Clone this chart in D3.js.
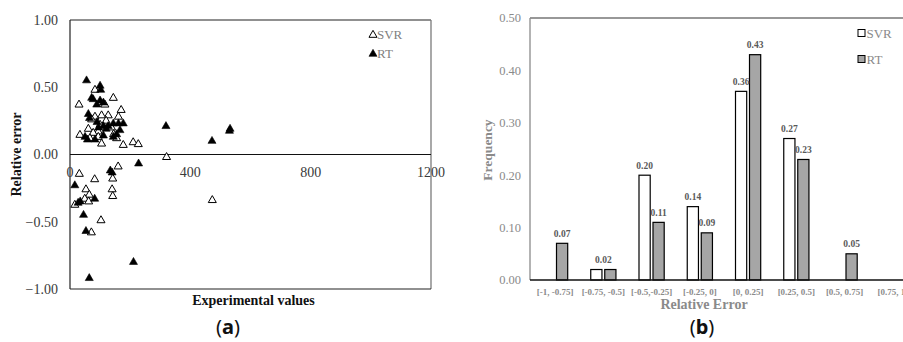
<!DOCTYPE html>
<html>
<head>
<meta charset="utf-8">
<script src="https://cdn.jsdelivr.net/npm/d3@7"></script>
<style>
  html, body { margin: 0; padding: 0; background: #fff; }
  svg { display: block; }
</style>
</head>
<body>
<svg id="fig" width="903" height="342" font-family="'Liberation Serif', 'Times New Roman', Times, serif"></svg>
<script>
// ---------- (a) relative error vs experimental value ----------
const svrPoints = [
  [30,0.37],[83,0.48],[144,0.42],[116,0.37],[170,0.33],[161,0.28],[127,0.29],[105,0.29],
  [83,0.28],[72,0.26],[61,0.19],[94,0.17],[77,0.16],[33,0.145],[94,0.13],[105,0.08],
  [155,0.12],[177,0.07],[210,0.09],[227,0.076],[321,-0.02],[120,0.25],[138,0.20],[100,0.22],
  [66,0.12],[145,0.15],
  [31,-0.145],[82,-0.185],[160,-0.09],[142,-0.18],[140,-0.26],[142,-0.31],[53,-0.26],
  [64,-0.30],[49,-0.33],[62,-0.35],[16,-0.375],[103,-0.49],[71,-0.58],[473,-0.34]
];
const rtPoints = [
  [55,0.55],[100,0.51],[102,0.48],[72,0.42],[77,0.41],[100,0.40],[89,0.37],[111,0.385],
  [61,0.30],[65,0.27],[90,0.24],[111,0.21],[127,0.21],[144,0.23],[161,0.23],[177,0.23],
  [166,0.18],[155,0.15],[144,0.13],[111,0.14],[83,0.11],[50,0.13],[58,0.11],[95,0.20],
  [120,0.19],[319,0.21],[472,0.10],[532,0.19],[530,0.175],
  [16,-0.23],[134,-0.12],[140,-0.135],[82,-0.33],[34,-0.35],[27,-0.36],[45,-0.45],
  [53,-0.57],[211,-0.80],[64,-0.92],[228,-0.068]
];
const xTicksA = [0, 400, 800, 1200];
const yTicksA = [1, 0.5, 0, -0.5, -1];

// ---------- (b) relative error histogram ----------
const bins = ["[-1, -0.75]", "[-0.75, -0.5]", "[-0.5,-0.25]", "[-0.25, 0]",
              "[0, 0.25]", "[0.25, 0.5]", "[0.5, 0.75]", "[0.75, 1]"];
const svrFreq = [0, 0.02, 0.20, 0.14, 0.36, 0.27, 0, 0];
const rtFreq  = [0.07, 0.02, 0.11, 0.09, 0.43, 0.23, 0.05, 0];
const yTicksB = [0, 0.1, 0.2, 0.3, 0.4, 0.5];
const seriesNames = ["SVR", "RT"];

const serif = "'Liberation Serif', 'Times New Roman', Times, serif";
const svg = d3.select("#fig");

// ===== panel (a) =====
const ax = { l: 70, r: 431, t: 20, b: 289 };
const xA = d3.scaleLinear().domain([0, 1200]).range([ax.l, ax.r]);
const yA = d3.scaleLinear().domain([-1, 1]).range([ax.b, ax.t]);
const gA = svg.append("g").attr("font-family", serif);

// frame
gA.append("line").attr("x1", ax.l).attr("x2", ax.r).attr("y1", ax.t).attr("y2", ax.t)
  .attr("stroke", "#222").attr("stroke-width", 1.2);
gA.append("line").attr("x1", ax.r).attr("x2", ax.r).attr("y1", ax.t).attr("y2", ax.b)
  .attr("stroke", "#7a7a7a").attr("stroke-width", 1.3);
gA.append("line").attr("x1", ax.l).attr("x2", ax.r).attr("y1", ax.b).attr("y2", ax.b)
  .attr("stroke", "#222").attr("stroke-width", 1.2);
gA.append("line").attr("x1", ax.l).attr("x2", ax.l).attr("y1", ax.t).attr("y2", ax.b)
  .attr("stroke", "#222").attr("stroke-width", 1.2);
// zero line acting as x axis
gA.append("line").attr("x1", ax.l).attr("x2", ax.r).attr("y1", yA(0)).attr("y2", yA(0))
  .attr("stroke", "#111").attr("stroke-width", 1.2);

// y tick labels
gA.selectAll(".yt").data(yTicksA).join("text")
  .attr("x", ax.l - 12).attr("y", d => yA(d)).attr("dy", "0.35em")
  .attr("text-anchor", "end").attr("font-size", 14).attr("fill", "#3a3a3a")
  .text(d => d3.format(".2f")(d));
// x tick labels just under the zero line
gA.selectAll(".xt").data(xTicksA).join("text")
  .attr("x", d => xA(d)).attr("y", yA(0) + 22)
  .attr("text-anchor", "middle").attr("font-size", 14).attr("fill", "#3a3a3a")
  .text(d => d);

// titles
gA.append("text").attr("transform", `translate(21,${yA(0)}) rotate(-90)`)
  .attr("text-anchor", "middle").attr("font-size", 14).attr("font-weight", "bold")
  .attr("fill", "#111").text("Relative error");
gA.append("text").attr("x", (ax.l + ax.r) / 2 + 3).attr("y", 305)
  .attr("text-anchor", "middle").attr("font-size", 14).attr("font-weight", "bold")
  .attr("fill", "#111").text("Experimental values");

// markers
const tri = d3.symbol().type(d3.symbolTriangle).size(28);
gA.selectAll(".svr").data(svrPoints).join("path")
  .attr("d", tri).attr("transform", d => `translate(${xA(d[0])},${yA(d[1])})`)
  .attr("fill", "#fff").attr("stroke", "#000").attr("stroke-width", 1);
gA.selectAll(".rt").data(rtPoints).join("path")
  .attr("d", tri).attr("transform", d => `translate(${xA(d[0])},${yA(d[1])})`)
  .attr("fill", "#000").attr("stroke", "#000").attr("stroke-width", 0.6);

// legend
const legA = gA.append("g").attr("transform", "translate(373,0)");
legA.append("path").attr("d", tri).attr("transform", "translate(0,35)")
  .attr("fill", "#fff").attr("stroke", "#000").attr("stroke-width", 1);
legA.append("text").attr("x", 4).attr("y", 34).attr("dy", "0.35em")
  .attr("font-size", 13).attr("fill", "#7f7f7f").text("SVR");
legA.append("path").attr("d", tri).attr("transform", "translate(0,54)")
  .attr("fill", "#000").attr("stroke", "#000").attr("stroke-width", 0.6);
legA.append("text").attr("x", 4).attr("y", 53).attr("dy", "0.35em")
  .attr("font-size", 13).attr("fill", "#7f7f7f").text("RT");

// panel tag
const tagA = svg.append("text").attr("x", 228).attr("y", 334).attr("text-anchor", "middle")
  .attr("font-family", "'Noto Sans', sans-serif").attr("font-size", 20).attr("fill", "#111");
tagA.append("tspan").text("(");
tagA.append("tspan").attr("font-weight", "bold").text("a");
tagA.append("tspan").text(")");

// ===== panel (b) =====
const bx = { l: 530, r: 917, t: 18, b: 280 };
const xB = d3.scaleBand().domain(bins).range([bx.l + 1, bx.r]).paddingInner(0).paddingOuter(0);
const xSub = d3.scaleBand().domain(seriesNames)
  .range([11.5, 36.7]).paddingInner(0.2).paddingOuter(0);
const yB = d3.scaleLinear().domain([0, 0.5]).range([bx.b, bx.t]);
const gB = svg.append("g").attr("font-family", serif);

gB.append("line").attr("x1", bx.l).attr("x2", 903).attr("y1", bx.t).attr("y2", bx.t)
  .attr("stroke", "#333").attr("stroke-width", 1.2);
gB.append("line").attr("x1", bx.l).attr("x2", bx.l).attr("y1", bx.t).attr("y2", bx.b)
  .attr("stroke", "#8a8a8a").attr("stroke-width", 1.3);

gB.selectAll(".yt").data(yTicksB).join("text")
  .attr("x", bx.l - 9).attr("y", d => yB(d)).attr("dy", "0.35em")
  .attr("text-anchor", "end").attr("font-size", 12.5).attr("fill", "#8a8a8a")
  .text(d => d3.format(".2f")(d));

const rows = bins.map((b, i) => ({ bin: b, SVR: svrFreq[i], RT: rtFreq[i] }));
const barFill = { SVR: "#ffffff", RT: "#a6a6a6" };

const groups = gB.selectAll(".grp").data(rows).join("g")
  .attr("transform", d => `translate(${xB(d.bin)},0)`);
groups.selectAll("rect")
  .data(d => seriesNames.map(s => ({ s, v: d[s] })).filter(e => e.v > 0))
  .join("rect")
  .attr("x", d => xSub(d.s)).attr("width", xSub.bandwidth())
  .attr("y", d => yB(d.v)).attr("height", d => yB(0) - yB(d.v))
  .attr("fill", d => barFill[d.s]).attr("stroke", "#000").attr("stroke-width", 1.2);

// value labels; a pair of equal values shares one label over the pair
groups.selectAll("text.val")
  .data(d => {
    const items = seriesNames.map(s => ({ s, v: d[s] })).filter(e => e.v > 0);
    if (items.length === 2 && items[0].v === items[1].v) {
      return [{ v: items[0].v, cx: (xSub("SVR") + xSub("RT") + xSub.bandwidth()) / 2 }];
    }
    return items.map(e => ({ v: e.v, cx: xSub(e.s) + xSub.bandwidth() / 2 }));
  })
  .join("text").attr("class", "val")
  .attr("x", d => d.cx).attr("y", d => yB(d.v) - 6.5)
  .attr("text-anchor", "middle").attr("font-size", 9.5).attr("font-weight", "bold")
  .attr("fill", "#595959").text(d => d3.format(".2f")(d.v));

// baseline
gB.append("line").attr("x1", bx.l).attr("x2", 903).attr("y1", bx.b).attr("y2", bx.b)
  .attr("stroke", "#111").attr("stroke-width", 1.3);

// category labels
gB.selectAll(".xt").data(bins).join("text")
  .attr("x", d => xB(d) + xB.bandwidth() / 2).attr("y", 294.5)
  .attr("text-anchor", "middle").attr("font-size", 9).attr("font-weight", "bold")
  .attr("fill", "#8a8a8a").text(d => d);

// titles
gB.append("text").attr("transform", `translate(492,150) rotate(-90)`)
  .attr("text-anchor", "middle").attr("font-size", 13.5).attr("font-weight", "bold")
  .attr("fill", "#8a8a8a").text("Frequency");
gB.append("text").attr("x", 704).attr("y", 308.5)
  .attr("text-anchor", "middle").attr("font-size", 14).attr("font-weight", "bold")
  .attr("fill", "#8a8a8a").text("Relative Error");

// legend
const legB = gB.append("g").attr("transform", "translate(858,0)");
seriesNames.forEach((s, i) => {
  const y = 33 + i * 26;
  legB.append("rect").attr("x", 0).attr("y", y - 3.5).attr("width", 7).attr("height", 7)
    .attr("fill", barFill[s]).attr("stroke", "#000").attr("stroke-width", 1);
  legB.append("text").attr("x", 8.5).attr("y", y).attr("dy", "0.35em")
    .attr("font-size", 13).attr("fill", "#8a8a8a").text(s);
});

// panel tag
const tagB = svg.append("text").attr("x", 702).attr("y", 334).attr("text-anchor", "middle")
  .attr("font-family", "'Noto Sans', sans-serif").attr("font-size", 20).attr("fill", "#111");
tagB.append("tspan").text("(");
tagB.append("tspan").attr("font-weight", "bold").text("b");
tagB.append("tspan").text(")");
</script>
</body>
</html>
